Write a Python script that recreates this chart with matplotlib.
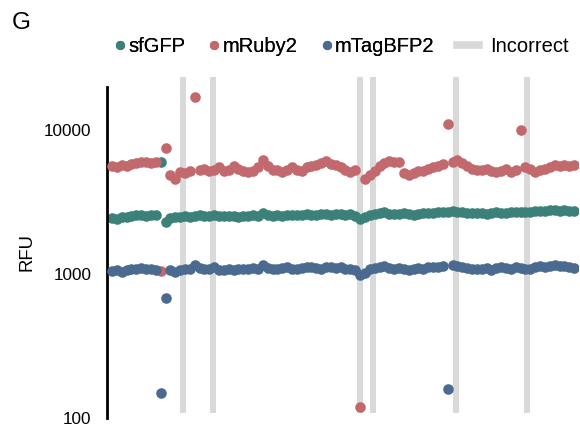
import numpy as np
import matplotlib
matplotlib.use('Agg')
from matplotlib import pyplot as plt
from matplotlib.lines import Line2D

plt.rcParams['font.family'] = ['Liberation Sans', 'DejaVu Sans']

# valores (pocillo -> RFU)
sfgfp = [2450, 2420, 2480, 2500, 2520, 2550, 2560, 2540, 2580, 2560,
         6000, 2300, 2450, 2480, 2500, 2520, 2500, 2530, 2550, 2520,
         2540, 2560, 2530, 2510, 2540, 2520, 2480, 2510, 2530, 2560,
         2540, 2650, 2560, 2540, 2550, 2530, 2560, 2580, 2560, 2570,
         2600, 2580, 2590, 2610, 2600, 2590, 2610, 2600, 2580, 2600,
         2520, 2420, 2480, 2560, 2620, 2640, 2680, 2620, 2600, 2620,
         2640, 2600, 2580, 2620, 2640, 2650, 2660, 2680, 2700, 2700,
         2720, 2700, 2680, 2660, 2650, 2640, 2650, 2630, 2660, 2680,
         2670, 2650, 2680, 2700, 2690, 2680, 2700, 2740, 2760, 2730,
         2800, 2780, 2760, 2780, 2760, 2740]

mruby2 = [5600, 5500, 5700, 5600, 5800, 5900, 6000, 6000, 5900, 6000,
          1050, 7500, 4900, 4600, 5100, 5000, 5200, 17000, 5300, 5400,
          5200, 5300, 5500, 5200, 5300, 5600, 5400, 5200, 5100, 5200,
          5500, 6200, 5600, 5300, 5300, 5100, 5300, 5500, 5300, 5200,
          5500, 5600, 5700, 5900, 6100, 5800, 5700, 5500, 5300, 5100,
          5300, 120, 4600, 4900, 5200, 5600, 5900, 6100, 6000, 6000,
          5000, 4900, 5000, 5200, 5200, 5400, 5500, 5600, 5800, 11000,
          6000, 6200, 5900, 5600, 5400, 5300, 5300, 5400, 5200, 5100,
          5200, 5400, 5100, 5300, 10000, 5500, 5400, 5100, 5300, 5400,
          5500, 5700, 5600, 5700, 5600, 5700]

mtagbfp2 = [1050, 1060, 1040, 1070, 1080, 1090, 1100, 1080, 1090, 1070,
            150, 680, 1060, 1040, 1070, 1090, 1080, 1150, 1100, 1080,
            1090, 1120, 1070, 1060, 1080, 1070, 1090, 1080, 1090, 1100,
            1080, 1150, 1100, 1090, 1080, 1100, 1110, 1090, 1080, 1100,
            1110, 1120, 1100, 1090, 1110, 1120, 1100, 1110, 1090, 1080,
            1070, 980, 1020, 1080, 1100, 1110, 1130, 1100, 1090, 1100,
            1090, 1070, 1080, 1100, 1090, 1110, 1120, 1110, 1130, 160,
            1150, 1130, 1110, 1100, 1090, 1090, 1080, 1100, 1070, 1100,
            1110, 1100, 1090, 1110, 1100, 1090, 1080, 1110, 1140, 1120,
            1130, 1150, 1130, 1140, 1120, 1100]

# posiciones marcadas como incorrectas
incorrect = [14.5, 20.8, 50.9, 53.7, 70.8, 85.4]

c_green = '#3b8079'
c_red = '#c1696c'
c_blue = '#4a6b8f'
c_gray = '#d9d9d9'

fig = plt.figure(figsize=(5.8, 4.26), dpi=100)
ax = fig.add_axes([107/580, 8/426, 471/580, 331/426])

x = np.arange(len(sfgfp))
ax.vlines(incorrect, 108, 23500, colors=c_gray, linewidth=4.3, zorder=1, clip_on=False)
ax.scatter(x, sfgfp, s=58, color=c_green, linewidths=0, zorder=2)
ax.scatter(x, mruby2, s=58, color=c_red, linewidths=0, zorder=3)
ax.scatter(x, mtagbfp2, s=58, color=c_blue, linewidths=0, zorder=4)

ax.set_yscale('log')
ax.set_ylim(100, 19900)
ax.set_xlim(-1.03, 95.8)
ax.set_yticks([100, 1000, 10000])
ax.set_yticklabels(['100', '1000', '10000'])
ax.minorticks_off()
ax.tick_params(axis='y', length=0, pad=11, labelsize=12.3)
ax.set_xticks([])
for s in ['top', 'right', 'bottom']:
    ax.spines[s].set_visible(False)
ax.spines['left'].set_linewidth(2)
ax.set_ylabel('RFU', fontsize=13.3, labelpad=6)

fig.text(0.036, 0.946, 'G', fontsize=17.5, ha='center', va='center')

# leyenda en dos partes (puntos y barra gris)
handles = [Line2D([], [], marker='o', ls='', color=c_green, markersize=5.6),
           Line2D([], [], marker='o', ls='', color=c_red, markersize=5.6),
           Line2D([], [], marker='o', ls='', color=c_blue, markersize=5.6)]
leg1 = fig.legend(handles, ['sfGFP', 'mRuby2', 'mTagBFP2'], loc='center left',
                  bbox_to_anchor=(114.7/580, 0.89), ncol=3, frameon=False, fontsize=14.5,
                  handlelength=0.5, handletextpad=0.16, columnspacing=1.2,
                  borderpad=0, borderaxespad=0)
fig.add_artist(leg1)
fig.legend([Line2D([], [], color=c_gray, linewidth=5.5)], ['Incorrect'], loc='center left',
           bbox_to_anchor=(456.5/580, 0.89), frameon=False, fontsize=14.5,
           handlelength=1.14, handletextpad=0.52, borderpad=0, borderaxespad=0)

plt.savefig('out.png', dpi=100)
